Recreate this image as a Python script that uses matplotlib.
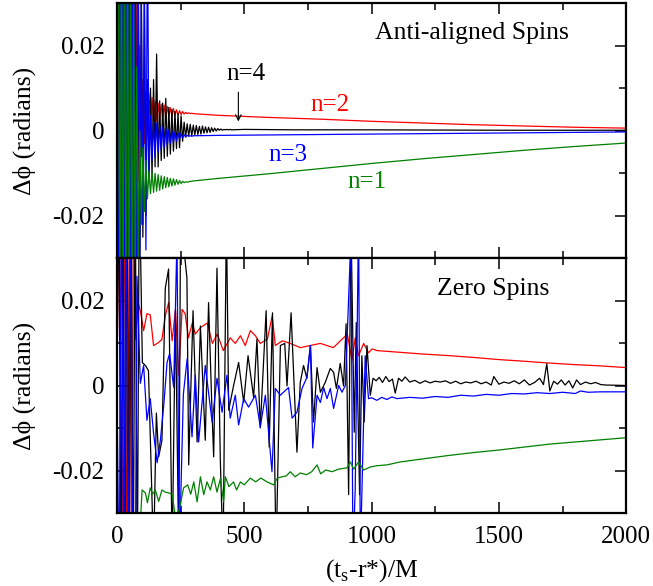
import numpy as np
import matplotlib
matplotlib.use("Agg")
import matplotlib.pyplot as plt
from matplotlib.ticker import MultipleLocator

plt.rcParams['font.family'] = ['Liberation Serif', 'DejaVu Serif']
plt.rcParams['mathtext.fontset'] = 'custom'
plt.rcParams['mathtext.rm'] = 'Liberation Serif'
plt.rcParams['axes.unicode_minus'] = False

# ---------------- Anti-aligned spins (top panel) ----------------
# dense part sampled every 6 M, then a sparse smooth tail
t_aa = np.arange(0, 301, 6)
aa_n2 = [0.0, 0.05, -0.05, 0.05, -0.05, 0.05, -0.05, 0.05, -0.04, 0.05,
         -0.03, 0.04, -0.02, 0.03, -0.012, 0.02, -0.006, 0.012, -0.003, 0.009,
         0.0, 0.0088, 0.001, 0.0078, 0.0016, 0.007, 0.0022, 0.0065, 0.0026, 0.0062,
         0.0029, 0.006, 0.0031, 0.0057, 0.0033, 0.0054, 0.0034, 0.0052, 0.0036, 0.0049,
         0.0037, 0.0047, 0.0038, 0.0045, 0.0039, 0.0043, 0.004, 0.0042, 0.004, 0.0041,
         0.004]
aa_n3 = [0.0, -0.05, 0.05, -0.05, 0.05, -0.05, 0.05, -0.05, 0.05, -0.05,
         0.05, -0.05, 0.05, -0.04, 0.04, -0.03, 0.03, -0.022, 0.035, -0.028,
         0.05, -0.012, 0.0035, -0.007, 0.002, -0.0062, 0.0018, -0.005, 0.0012, -0.0045,
         0.0008, -0.004, 0.0005, -0.0035, 0.0002, -0.003, -0.0001, -0.0028, -0.0003, -0.0024,
         -0.0005, -0.002, -0.0007, -0.0017, -0.0009, -0.0015, -0.0011, -0.0013, -0.0012, -0.0013,
         -0.0012]
aa_n1 = [0.0, 0.05, -0.05, 0.05, -0.05, 0.05, -0.05, 0.05, -0.05, 0.04,
         -0.04, 0.03, -0.035, 0.015, -0.03, 0.0, -0.022, -0.004, -0.019, -0.007,
         -0.016, -0.0095, -0.0148, -0.0098, -0.0145, -0.01, -0.0142, -0.0103, -0.014, -0.0106,
         -0.0137, -0.0108, -0.0134, -0.011, -0.0132, -0.0112, -0.013, -0.0113, -0.0128, -0.0115,
         -0.0126, -0.0117, -0.0124, -0.0119, -0.0122, -0.012, -0.0121, -0.012, -0.0119, -0.0119,
         -0.0118]
t_aa_tail = [400, 600, 800, 1000, 1200, 1400, 1600, 1800, 2000]
aa_n2_tail = [0.0036, 0.0031, 0.0027, 0.0022, 0.0018, 0.0014, 0.0011, 0.0008, 0.0006]
aa_n3_tail = [-0.0011, -0.001, -0.0009, -0.0008, -0.0007, -0.0006, -0.0005, -0.0004, -0.0003]
aa_n1_tail = [-0.0112, -0.0101, -0.0089, -0.0077, -0.0066, -0.0056, -0.0046, -0.0037, -0.0029]

t_aa4 = np.arange(0, 451, 6)
aa_n4 = [0.0, -0.05, 0.05, -0.05, 0.05, -0.05, 0.05, -0.05, 0.05, -0.05,
         0.05, -0.05, 0.05, -0.045, 0.04, -0.035, 0.035, -0.025, 0.03, -0.02,
         0.012, -0.012, 0.01, -0.011, 0.012, -0.0085, 0.018, -0.0085, 0.007, -0.007,
         0.0065, -0.0065, 0.0076, -0.006, 0.0055, -0.0055, 0.005, -0.0048, 0.0045, -0.0042,
         0.004, -0.004, 0.0035, -0.0025, 0.002, -0.0015, 0.0016, -0.0013, 0.0015, -0.0012,
         0.0013, -0.001, 0.0012, -0.0009, 0.001, -0.0008, 0.0011, -0.0006, 0.0009, -0.0005,
         0.0008, -0.0004, 0.0007, -0.0002, 0.0006, -0.0001, 0.0005, 0.0001, 0.0004, 0.0001,
         0.0003, 0.0002, 0.0003, 0.0002, 0.0003, 0.0002]
t_aa4_tail = [500, 700, 1000, 1500, 2000]
aa_n4_tail = [0.0003, 0.0002, 0.0002, 0.0001, 0.0001]

# ---------------- Zero spins (bottom panel) ----------------
t_zs_n2 = [0, 10, 20, 30, 40, 50, 58, 66, 74, 83, 92, 105, 118, 131, 144,
           164, 177, 190, 203, 217, 230, 243, 256, 268, 281, 296, 308, 328,
           355, 375, 394, 418, 445, 465, 485, 504, 524, 544, 563, 591, 610, 622,
           650, 681, 720, 759, 799, 850, 905, 923, 936, 949, 969, 988,
           1002, 1022, 1112, 1200, 1309, 1400, 1497, 1600, 1690, 1800, 1900, 2000]
zs_n2 = [0.0, 0.05, -0.05, 0.05, -0.05, 0.05, -0.05, 0.05, 0.011, 0.0196, 0.0177, 0.013, 0.017, 0.0167, 0.0095,
         0.0102, 0.011, 0.0165, 0.0196, 0.0106, 0.018, 0.0025, 0.018, 0.017, 0.0113, 0.0148, 0.0122, 0.0137,
         0.0148, 0.01, 0.0122, 0.0083, 0.0113, 0.01, 0.0118, 0.0095, 0.013, 0.0118, 0.01, 0.011, 0.0165, 0.0095,
         0.0106, 0.01, 0.009, 0.0095, 0.01, 0.009, 0.0122, 0.006, 0.0113, 0.0071, 0.01, 0.0078,
         0.0087, 0.0083, 0.0079, 0.0075, 0.0071, 0.0067, 0.0062, 0.0058, 0.0054, 0.005, 0.0047, 0.0043]

t_zs_n3 = [0, 9, 18, 27, 36, 45, 54, 63, 72, 79,
           92, 105, 118, 131, 144, 158, 171, 184, 197, 207,
           223, 236, 245, 261, 276, 295, 308, 321, 347, 374,
           393, 413, 432, 445, 465, 478, 498, 517, 544, 563,
           583, 609, 622, 642, 654, 674, 688, 707, 727, 746,
           760, 769, 786, 799, 812, 825, 838, 851, 871, 884,
           897, 919, 927, 936, 949, 956, 975, 988, 1000, 1021,
           1040, 1060, 1080, 1100, 1150, 1200, 1250, 1300, 1350, 1400,
           1450, 1500, 1550, 1600, 1650, 1700, 1750, 1800, 1820, 1850,
           1900, 2000]
zs_n3 = [0.0, -0.05, 0.05, -0.05, 0.05, -0.05, 0.05, -0.05, -0.05, 0.0258,
         0.0006, 0.0048, -0.0081, -0.003, -0.0111, -0.0181, -0.0127, -0.0046, 0.0055, 0.0076,
         -0.0003, 0.035, -0.04, -0.002, 0.0064, -0.012, 0.0025, -0.0132, 0.0048, -0.0085,
         0.0018, -0.0062, 0.0025, -0.0076, -0.0022, -0.0092, -0.003, -0.005, -0.0022, -0.0097,
         -0.0022, -0.0202, -0.0006, -0.0022, -0.0015, -0.0004, -0.0076, -0.0062, -0.0006, 0.002,
         0.0095, -0.0146, -0.0022, -0.0039, -0.0004, -0.003, -0.0006, -0.0053, 0.0001, -0.0015,
         0.0001, 0.035, -0.04, -0.024, 0.04, -0.04, 0.0071, -0.003, -0.0028, -0.0034,
         -0.0027, -0.0032, -0.0026, -0.003, -0.0027, -0.0029, -0.0025, -0.0027, -0.0022, -0.0024,
         -0.002, -0.0022, -0.0018, -0.0019, -0.0016, -0.0018, -0.0015, -0.0018, -0.0012, -0.0015,
         -0.0014, -0.0014]

t_zs_n4 = [0, 8, 16, 24, 32, 40, 48, 56, 64, 72,
           80, 88, 100, 112, 124, 144, 155, 164, 177, 190,
           203, 217, 230, 243, 250, 275, 282, 299, 315, 328,
           347, 360, 374, 380, 393, 406, 417, 430, 439, 458,
           478, 498, 515, 537, 550, 563, 586, 598, 611, 625,
           642, 659, 668, 684, 707, 720, 733, 746, 760, 772,
           786, 799, 818, 838, 851, 862, 877, 890, 900, 910,
           919, 932, 940, 953, 962, 971, 982, 995, 1006, 1018,
           1030, 1043, 1056, 1069, 1082, 1093, 1106, 1119, 1132, 1150,
           1170, 1190, 1210, 1230, 1250, 1270, 1290, 1310, 1330, 1350,
           1370, 1390, 1410, 1430, 1450, 1470, 1480, 1500, 1520, 1540,
           1560, 1580, 1600, 1620, 1640, 1660, 1675, 1688, 1700, 1715,
           1730, 1745, 1760, 1775, 1790, 1805, 1820, 1840, 1860, 1880,
           1900, 1920, 2000]
zs_n4 = [0.0, 0.05, -0.05, 0.05, -0.05, 0.05, -0.05, 0.05, -0.05, 0.05,
         -0.05, 0.05, 0.0055, 0.0048, 0.0036, -0.04, -0.0064, -0.0167, -0.0128, 0.023,
         0.0275, -0.04, 0.0177, -0.04, 0.04, 0.0254, -0.0186, 0.0177, -0.0132, 0.0141,
         -0.0128, 0.0196, -0.0069, -0.0167, 0.0277, -0.017, -0.04, 0.04, -0.0057, 0.0,
         0.0055, -0.0039, 0.0071, -0.0027, 0.011, -0.0099, 0.0177, -0.0144, 0.0172, -0.04,
         0.0095, 0.01, 0.0, 0.0172, -0.0156, 0.0008, 0.0048, 0.0018, 0.0095, -0.0085,
         0.0043, -0.0015, 0.0008, 0.0041, 0.0032, -0.0006, 0.0053, 0.0, 0.0146, -0.0256,
         0.04, -0.0109, 0.0149, -0.0256, 0.0071, -0.0085, 0.0095, -0.0022, 0.0018, 0.0012,
         0.002, 0.0008, 0.0022, 0.001, 0.0016, -0.0017, 0.0018, 0.0011, 0.0021, 0.0009,
         0.0013, 0.0006, 0.0012, 0.0007, 0.0011, 0.0009, 0.0012, 0.0006, 0.0011, 0.0005,
         0.0009, 0.0007, 0.0011, 0.0005, 0.0009, 0.0002, 0.0022, 0.0004, 0.0009, 0.0006,
         0.0012, 0.0005, 0.0014, 0.0002, 0.0008, 0.0018, 0.0003, 0.0052, -0.0012, 0.0011,
         0.0004, 0.0014, 0.0002, 0.0012, -0.0005, 0.0014, 0.0003, 0.0009, 0.0005, 0.0008,
         0.0003, 0.0002, 0.0001]

t_zs_n1 = [0, 9, 18, 27, 36, 45, 54, 63, 72, 85,
           99, 112, 120, 131, 140, 151, 164, 177, 190, 203,
           217, 230, 245, 262, 278, 290, 302, 315, 328, 341,
           354, 367, 380, 393, 406, 419, 426, 440, 458, 470,
           485, 500, 524, 545, 565, 590, 615, 630, 648, 665,
           681, 700, 720, 745, 765, 786, 800, 820, 845, 870,
           903, 917, 930, 949, 969, 995, 1020, 1060, 1113, 1200,
           1300, 1400, 1500, 1600, 1700, 1800, 1900, 2000]
zs_n1 = [-0.05, -0.035, -0.05, -0.03, -0.05, -0.035, -0.05, -0.03, -0.05, -0.04,
         -0.0245, -0.0252, -0.0275, -0.024, -0.0255, -0.0245, -0.0272, -0.0245, -0.025, -0.0252,
         -0.0255, -0.031, -0.029, -0.024, -0.0233, -0.0255, -0.0226, -0.0273, -0.0214, -0.0256,
         -0.0226, -0.0245, -0.0214, -0.025, -0.0219, -0.0273, -0.0214, -0.0237, -0.0226, -0.0245,
         -0.0226, -0.0233, -0.0217, -0.0226, -0.0217, -0.0226, -0.0233, -0.0217, -0.0214, -0.0212,
         -0.0202, -0.0214, -0.0205, -0.0209, -0.0202, -0.0186, -0.0207, -0.0198, -0.0202, -0.0196,
         -0.0193, -0.0179, -0.0196, -0.0179, -0.0198, -0.0191, -0.0188, -0.0186, -0.0179, -0.0172,
         -0.0164, -0.0157, -0.0151, -0.0144, -0.0137, -0.0132, -0.0127, -0.0122]

colors = {'n1': 'green', 'n2': 'red', 'n3': 'blue', 'n4': 'black'}
lw = 0.9

fig = plt.figure(figsize=(6.53, 5.86), dpi=100)
ax1 = fig.add_axes([0.179, 0.559, 0.78, 0.436])
ax2 = fig.add_axes([0.179, 0.124, 0.78, 0.435], sharex=ax1)

# top panel
ax1.plot(np.concatenate([t_aa, t_aa_tail]), aa_n2 + aa_n2_tail, color=colors['n2'], lw=lw)
ax1.plot(np.concatenate([t_aa4, t_aa4_tail]), aa_n4 + aa_n4_tail, color=colors['n4'], lw=lw)
ax1.plot(np.concatenate([t_aa, t_aa_tail]), aa_n3 + aa_n3_tail, color=colors['n3'], lw=lw)
ax1.plot(np.concatenate([t_aa, t_aa_tail]), aa_n1 + aa_n1_tail, color=colors['n1'], lw=lw)

# bottom panel
ax2.plot(t_zs_n2, zs_n2, color=colors['n2'], lw=lw)
ax2.plot(t_zs_n4, zs_n4, color=colors['n4'], lw=lw)
ax2.plot(t_zs_n3, zs_n3, color=colors['n3'], lw=lw)
ax2.plot(t_zs_n1, zs_n1, color=colors['n1'], lw=lw)

for ax in (ax1, ax2):
    ax.set_xlim(0, 2000)
    ax.set_ylim(-0.03, 0.03)
    ax.xaxis.set_major_locator(MultipleLocator(500))
    ax.xaxis.set_minor_locator(MultipleLocator(250))
    ax.set_yticks([-0.02, 0, 0.02])
    ax.set_yticklabels(['-0.02', '0', '0.02'])
    ax.yaxis.set_minor_locator(MultipleLocator(0.01))
    ax.tick_params(which='both', direction='in', top=True, right=True, width=1.1)
    ax.tick_params(which='major', length=8, labelsize=18, pad=9)
    ax.tick_params(which='minor', length=5)
    for s in ax.spines.values():
        s.set_linewidth(1.6)
    ax.set_ylabel('Δϕ (radians)', fontsize=18.5)
    ax.yaxis.set_label_coords(-0.158, 0.5)

ax1.tick_params(labelbottom=False)
ax2.set_xticks([0, 500, 1000, 1500, 2000])
ax2.set_xticklabels(['0', '500', '1000', '1500', '2000'])
ax2.set_xlabel('(t$_\\mathregular{s}$-r*)/M', fontsize=18.5)
ax2.xaxis.set_label_coords(0.5, -0.17)

# annotations
ax1.text(1395, 0.023, 'Anti-aligned Spins', fontsize=18.5, ha='center', va='center')
ax2.text(1478, 0.0228, 'Zero Spins', fontsize=18.5, ha='center', va='center')
ax1.text(505, 0.0132, 'n=4', fontsize=18, ha='center', va='center', color='black')
ax1.annotate('', xy=(477, 0.0015), xytext=(477, 0.0097),
             arrowprops=dict(arrowstyle='->', color='black', lw=0.8))
ax1.text(838, 0.006, 'n=2', fontsize=18, ha='center', va='center', color='red')
ax1.text(673, -0.0057, 'n=3', fontsize=18, ha='center', va='center', color='blue')
ax1.text(983, -0.012, 'n=1', fontsize=18, ha='center', va='center', color='green')

fig.savefig('out.png', dpi=100)
